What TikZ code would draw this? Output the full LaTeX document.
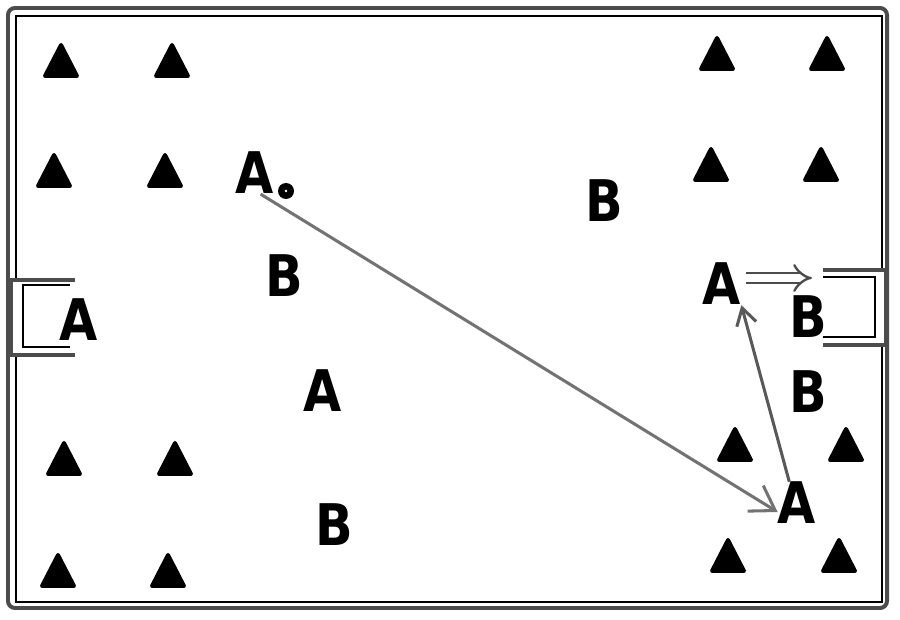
\documentclass[tikz,border=0pt]{standalone}
\usepackage{fontspec}
\setmainfont{DejaVu Sans}
\usetikzlibrary{arrows.meta}
\tikzset{
  player/.style={inner sep=0pt, font=\fontsize{49}{49}\selectfont\bfseries},
  ball/.style={circle, fill=black, inner sep=0pt, minimum size=0.48cm},
  pass/.style={draw=black!55, line width=2.6pt, -{Straight Barb[length=7mm,width=9mm]}},
  cone/.style={fill=black, draw=black, line width=3.4pt, line join=round},
  fieldline/.style={draw=black!70, line width=3.4pt},
  goalline/.style={draw=black, line width=1.2pt},
}
\newcommand{\lbl}[1]{\scalebox{0.86}[1]{#1}}

\begin{document}
\begin{tikzpicture}[x=0.03cm,y=-0.03cm]
  \useasboundingbox (0,0) rectangle (900,620);
  %field
  \draw[goalline] (16,16) rectangle (882,602);
  \fill[white] (14,279) rectangle (28,356);
  \fill[white] (870,269) rectangle (886,346);
  \draw[fieldline,rounded corners=6pt] (8,8) rectangle (887,608);

  %goals
  \draw[fieldline] (75,280) -- (11,280) -- (11,355) -- (75,355);
  \draw[goalline] (70,285) -- (23,285) -- (23,347) -- (70,347);
  \draw[fieldline] (823,270) -- (886,270) -- (886,345) -- (823,345);
  \draw[goalline] (823,277) -- (875,277) -- (875,337) -- (823,337);

  %cones
  \foreach \x/\y in {61/78,172/78,54/188,165/188,64/476,175/476,58/588,168/588,
                     717/71,827/71,711/182,821/182,735/462,846/462,728/573,839/573}
    \filldraw[cone] (\x-16,\y-2) -- (\x,\y-33) -- (\x+16,\y-2) -- cycle;

  %players
  \node[player] (aTop) at (255,173) {\lbl{A}};
  \node[player] (bTop) at (604,201) {\lbl{B}};
  \node[player] (bLeft) at (284,276) {\lbl{B}};
  \node[player] (aGoal) at (79,320) {\lbl{A}};
  \node[player] (aMid) at (323,391) {\lbl{A}};
  \node[player] (bLow) at (334,525) {\lbl{B}};
  \node[player] (aRight) at (722,284) {\lbl{A}};
  \node[player] (bGoal) at (808,317) {\lbl{B}};
  \node[player] (bRight) at (808,392) {\lbl{B}};
  \node[player] (aLow) at (797,503) {\lbl{A}};

  %ball
  \node[ball] (ball) at (286,191) {};
  \fill[white] (ball.center) circle[radius=0.04cm];

  %passes
  \draw[pass] (aTop.-75) -- (aLow.205);
  \draw[pass, draw=black!65, -{Straight Barb[length=5mm,width=6mm]}] (aLow.110) -- (aRight.south east);
  \coordinate (goalR) at (812,278);
  \draw[draw=black!70, line width=2pt, double=white, double distance=0.22cm, -{Implies}, shorten <=4pt]
    (aRight.east |- goalR) -- (goalR);
\end{tikzpicture}
\end{document}
